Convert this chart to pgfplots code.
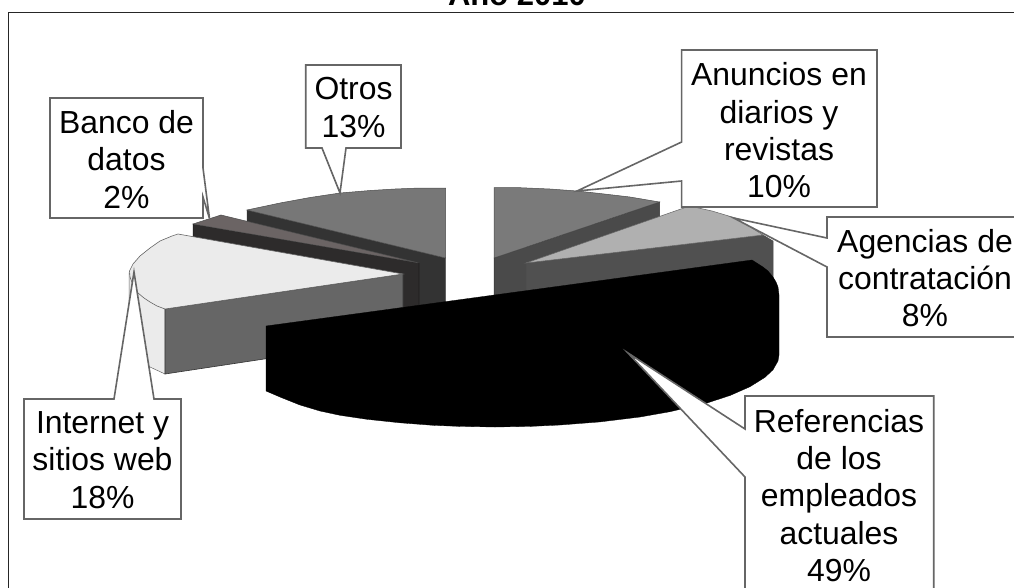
\documentclass[border=0pt]{standalone}
\usepackage{pgfplots}
\pgfplotsset{compat=1.18}
\usepackage{fontspec}
\setmainfont{Liberation Sans}
\definecolor{otrostop}{HTML}{777777}
\definecolor{otrosside}{HTML}{333333}
\definecolor{anuntop}{HTML}{7A7A7A}
\definecolor{anunside}{HTML}{4A4A4A}
\definecolor{agentop}{HTML}{B0B0B0}
\definecolor{agenside}{HTML}{505050}
\definecolor{bancotop}{HTML}{6B6464}
\definecolor{bancoside}{HTML}{2D2B2B}
\definecolor{nettop}{HTML}{EBEBEB}
\definecolor{netside}{HTML}{666666}
\definecolor{callout}{HTML}{666666}
\pgfplotsset{
  box/.style={fill=white,draw=callout,line width=1.6pt,line join=miter},
}
\newcommand{\lbl}[3]{\node[align=center,inner sep=0pt,font=\fontsize{31.9}{37.3}\selectfont] at (axis cs:#1,#2) {#3};}
\begin{document}
\begin{tikzpicture}[x=1pt,y=1pt]
\useasboundingbox (0,0) rectangle (1014,587);
\clip (0,0) rectangle (1014,587);
\begin{axis}[
  at={(0,0)},anchor=south west,
  width=1014pt,height=587pt,scale only axis,
  xmin=0,xmax=1014,ymin=0,ymax=587,y dir=reverse,
  axis lines=none,clip=false,
]
% chart frame: only the left and upper rules fall inside the page
\addplot[draw=black!85,line width=1pt] coordinates {(8,600) (8,12.5) (1020,12.5)};

% Otros 13%
\addplot[fill=otrosside,draw=otrosside] coordinates {(247,210) (445.5,258) (445.5,322) (247,274)} -- cycle;
\addplot[fill=otrostop,draw=black!70,line width=0.5pt] coordinates {(445.5,188) (420,188) (395,189) (370,190.5) (340,193) (310,197.5) (280,203) (247,210) (445.5,258)} -- cycle;

% Banco de datos 2%
\addplot[fill=bancoside,draw=black] coordinates {(193,224) (419,263) (419,327) (193,288)} -- cycle;
\addplot[fill=bancotop,draw=black!70,line width=0.5pt] coordinates {(221,215) (193,224) (419,263)} -- cycle;

% Internet y sitios web 18%
\addplot[fill=nettop,draw=black!60,line width=0.5pt] coordinates {(129,273) (129,337) (132,345) (139,356) (150,367) (165,374) (165,309)} -- cycle;
\addplot[fill=netside,draw=black!80,line width=0.6pt] coordinates {(165,309) (403,274) (403,338) (165,374)} -- cycle;
\addplot[fill=nettop,draw=black!60,line width=0.6pt] coordinates {(403,274) (178,234) (172,236) (160,241) (150,248) (140,256) (133,264) (129.5,271) (130,277) (133,285) (138,293) (144,298) (150,302) (157,306) (165,309)} -- cycle;

% Anuncios en diarios y revistas 10%
\addplot[fill=anunside,draw=black!80,line width=0.5pt] coordinates {(494,258) (659.5,202) (659.5,266) (494,322)} -- cycle;
\addplot[fill=anuntop,draw=black!70,line width=0.5pt] coordinates {(494,187.5) (520,187.7) (550,189) (577,191) (600,193.5) (630,197) (659.5,202) (494,258)} -- cycle;

% Agencias de contratacion 8%
\addplot[fill=agenside,draw=black!70,line width=0.5pt] coordinates {(526,263) (763,235) (773,241) (773,300) (526,330)} -- cycle;
\addplot[fill=agentop,draw=black!60,line width=0.5pt] coordinates {(526,263) (689.5,206) (712,211) (735.5,218) (752,228) (763,235)} -- cycle;

% Referencias de los empleados actuales 49%
\addplot[fill=black,draw=black,line width=0.3pt] coordinates {(266,326) (752,260) (763,267) (768,271) (773,277) (776,282) (778,287) (779,295) (779,355) (778,361) (773,369.8) (765,377.3) (750,386.7) (730,395.5) (707,403) (670,411.7) (640,417) (600,421.9) (560,425) (530,426.4) (495,427) (460,426.4) (433,425.3) (400,422.8) (367,419.3) (340,415.3) (320,411) (300,405) (280,397) (266,391)} -- cycle;

% data callouts
\addplot[box] coordinates {(305.7,65) (401,65) (401,148) (346,148) (340,193) (322,148) (305.7,148)} -- cycle;
\addplot[box] coordinates {(50,98) (203,98) (203,168) (209.5,218.5) (203,197) (203,218) (50,218)} -- cycle;
\addplot[box] coordinates {(681.6,50) (877,50) (877,207) (681.6,207) (681.6,181) (577,191) (681.6,142)} -- cycle;
\addplot[box] coordinates {(827,217) (1030,217) (1030,337) (827,337) (827,267) (733.7,218) (827,238)} -- cycle;
\addplot[box] coordinates {(24,399) (114,399) (134,272) (154,399) (181,399) (181,519) (24,519)} -- cycle;
\addplot[box] coordinates {(745,396) (933.7,396) (933.7,610) (745,610) (745,477) (628,353) (745,429)} -- cycle;

\lbl{353.5}{107.5}{Otros\\13\%}
\lbl{126.5}{159.5}{Banco de\\datos\\2\%}
\lbl{779}{130.5}{Anuncios en\\diarios y\\revistas\\10\%}
\lbl{925}{278}{Agencias de\\contratación\\8\%}
\lbl{102.5}{460}{Internet y\\sitios web\\18\%}
\lbl{839}{495.5}{Referencias\\de los\\empleados\\actuales\\49\%}
\node[anchor=base,inner sep=0pt,font=\fontsize{31}{36}\selectfont\bfseries] at (axis cs:517,5) {Año 2010};
\end{axis}
\end{tikzpicture}
\end{document}
